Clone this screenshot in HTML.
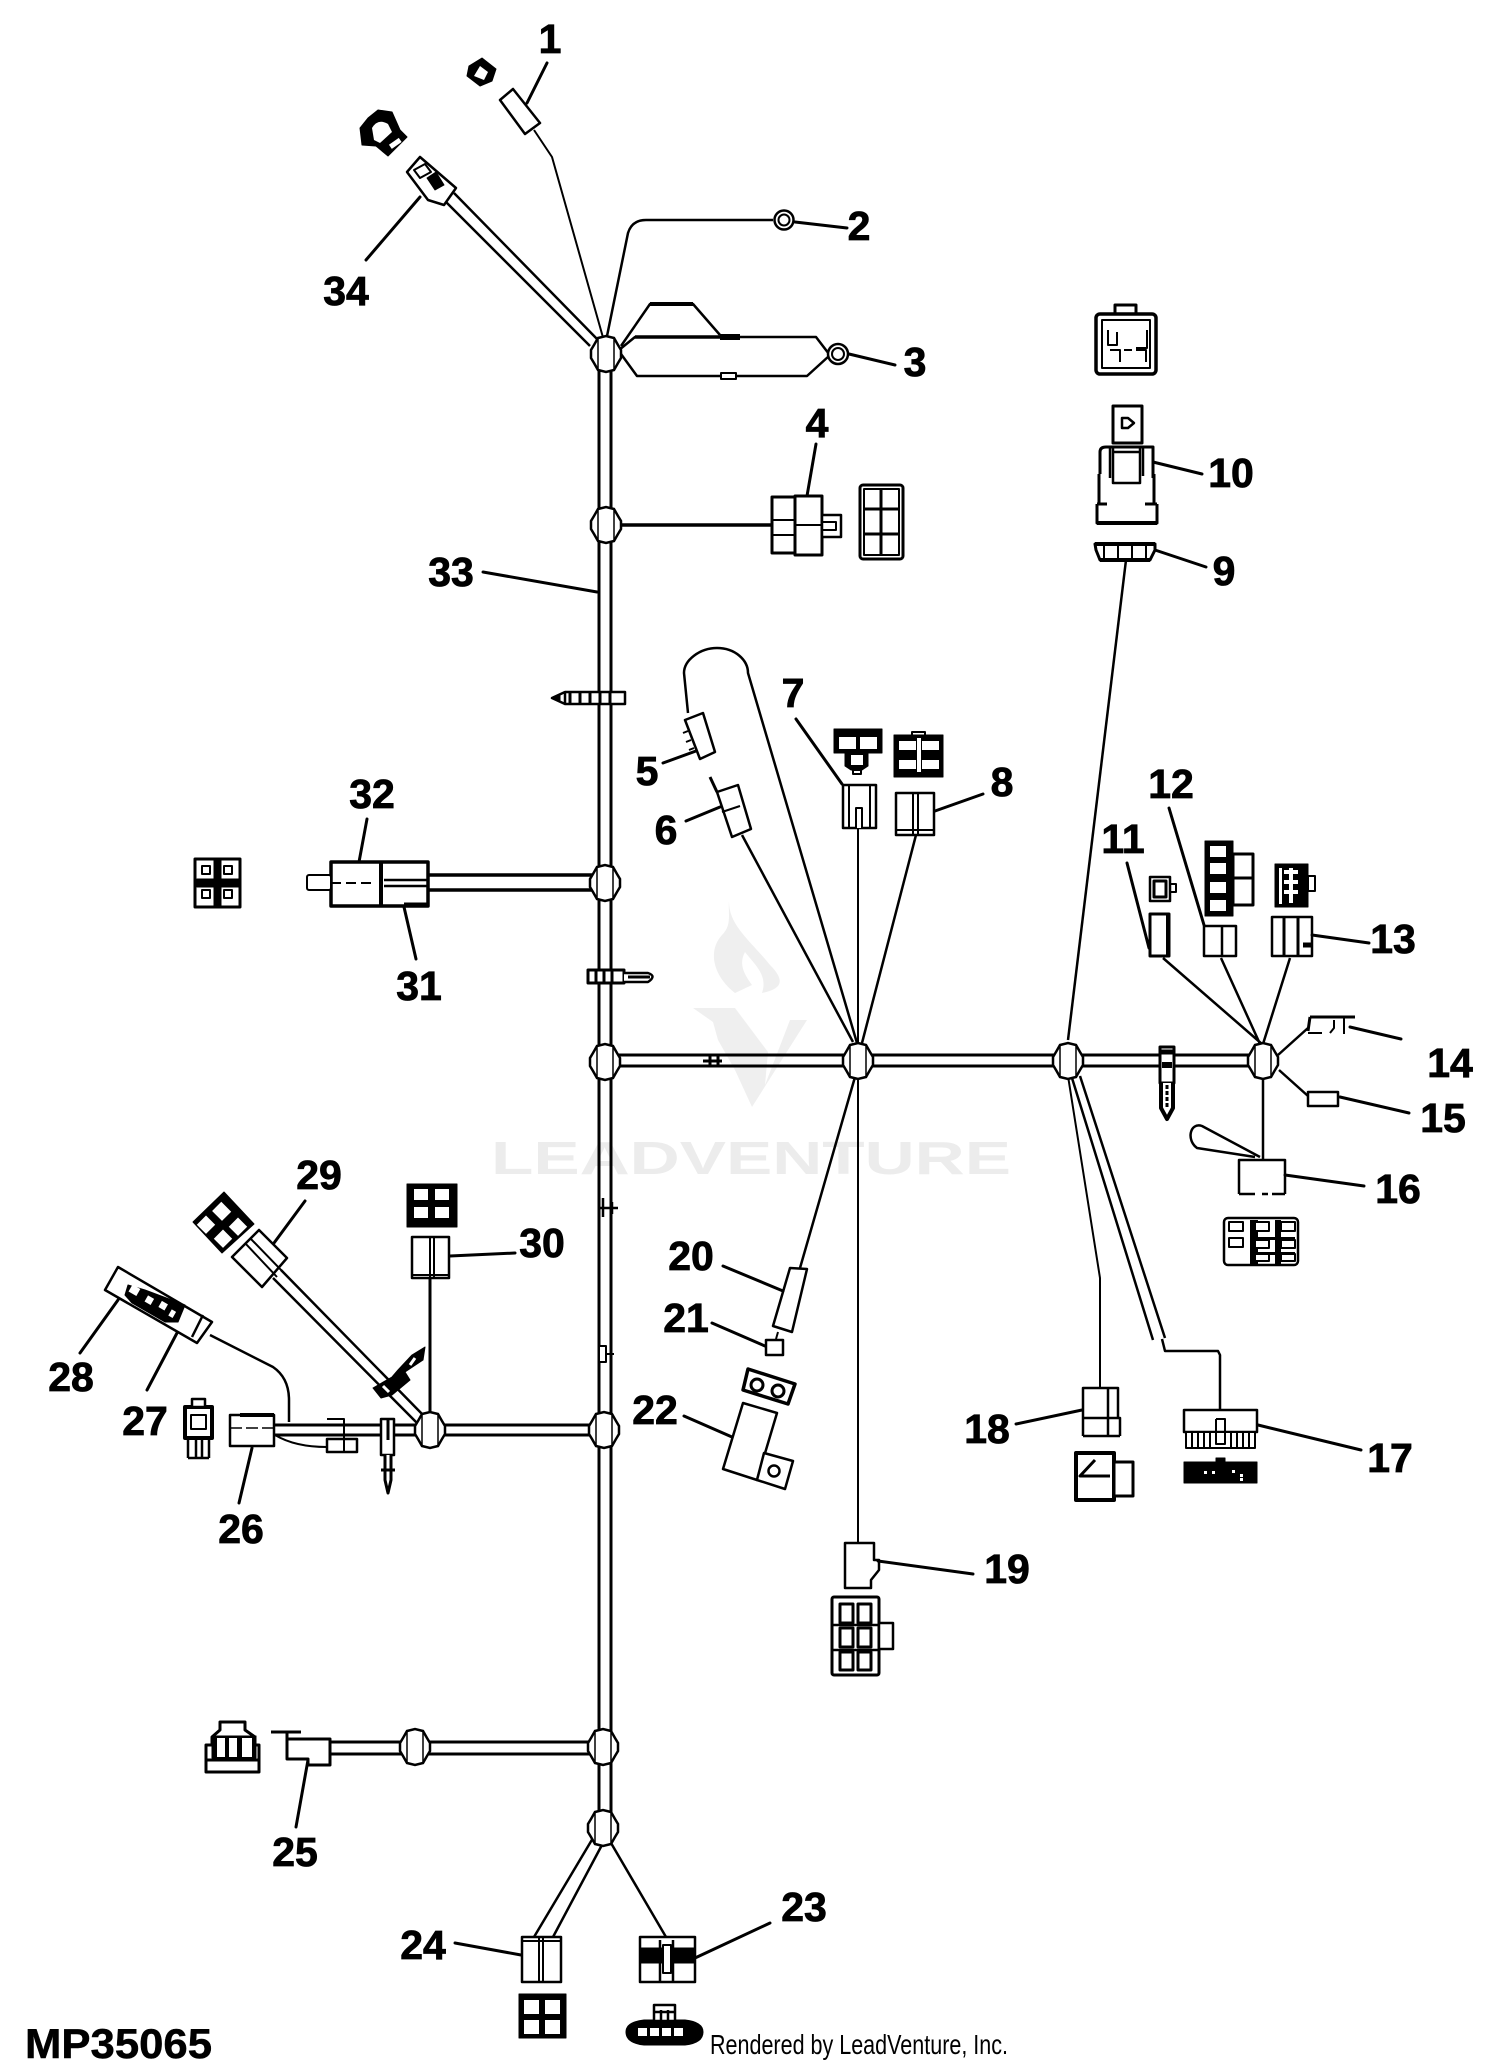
<!DOCTYPE html>
<html><head><meta charset="utf-8"><style>
html,body{margin:0;padding:0;background:#fff;width:1500px;height:2070px;overflow:hidden}
svg{display:block}
text{font-family:"Liberation Sans",sans-serif}
.n text,text.n{font-size:41px;font-weight:bold;text-anchor:middle;fill:#000;stroke:#000;stroke-width:.8}
</style></head><body>
<svg width="1500" height="2070" viewBox="0 0 1500 2070" xmlns="http://www.w3.org/2000/svg">
<defs>
<g id="nd"><path d="M-8-16 0-18 8-16 12-9 15-4V4L12 9 8 16 0 18-8 16-12 9-15 4V-4L-12-9Z" fill="#fff" stroke="#000" stroke-width="2.5"/><path d="M-8-15V15M8-15V15" fill="none" stroke="#000" stroke-width="1.5"/></g>
</defs>
<!-- watermark -->
<g fill="#efefef">
<path d="M729 900C728 925 750 940 770 965 790 985 775 990 762 993 768 975 755 965 745 952 738 965 745 975 752 985L735 993C712 975 708 950 722 935 732 925 728 915 729 900Z"/>
<path d="M693 1008H735L768 1052 765 1085 790 1020H807L752 1107 735 1070 718 1040 713 1022Z"/>
<text x="491" y="1174" font-size="46" font-weight="bold" textLength="520" lengthAdjust="spacingAndGlyphs" style="fill:#ececec">LEADVENTURE</text>
</g>

<!-- trunk -->
<g fill="none" stroke="#000" stroke-linejoin="round">
<path d="M599 354V1830M611 354V1830" stroke-width="3"/>
<!-- horizontals -->
<path d="M428 875H592M428 890H592" stroke-width="3.5"/>
<path d="M611 1055H1255M611 1066H1255" stroke-width="3"/>
<path d="M273 1425H591M273 1435H591" stroke-width="3"/>
<path d="M331 1742H593M331 1754H593" stroke-width="3"/>
<path d="M619 525H772" stroke-width="3.5"/>
<!-- top wires -->
<path d="M454 193 599 341M445 201 590 346" stroke-width="2.5"/>
<path d="M534 130 552 157 604 341" stroke-width="2"/>
<path d="M606 341 628 233Q632 220 646 220H773" stroke-width="2.5"/>
<path d="M619 350 635 337H816L829 354" stroke-width="2.5"/>
<path d="M621 346 650 304H693L720 335" stroke-width="2.5"/>
<path d="M650 304H693" stroke-width="4"/>
<path d="M635 337H720" stroke-width="3.5"/>
<path d="M720 337H740" stroke-width="6"/>
<path d="M621 354 637 376H807L829 356" stroke-width="2.5"/>
<!-- center wires -->
<path d="M688 713 684 673C684 660 700 648 717 648 735 648 748 660 748 673L857 1043" stroke-width="2.5"/>
<path d="M742 835 853 1042" stroke-width="2.5"/>
<path d="M858 828V1543" stroke-width="2"/>
<path d="M916 835 862 1043" stroke-width="2.5"/>
<path d="M1126 560 1068 1040" stroke-width="2.5"/>
<path d="M800 1268 855 1077" stroke-width="2.5"/>
<!-- right wires -->
<path d="M1163 958 1262 1044M1221 958 1260 1044M1290 958 1263 1044" stroke-width="2.5"/>
<path d="M1278 1055 1308 1028M1279 1070 1308 1096" stroke-width="2.5"/>
<path d="M1263 1078V1160" stroke-width="2.5"/>
<path d="M1260 1157 1202 1126C1190 1122 1186 1140 1197 1148L1255 1157" stroke-width="2.5"/>
<path d="M1068 1076 1100 1278V1387" stroke-width="2"/>
<path d="M1072 1078 1153 1340M1080 1076 1165 1338" stroke-width="2.5"/>
<path d="M1162 1339 1165 1351H1218L1220 1355V1410" stroke-width="2.5"/>
<!-- left wires -->
<path d="M281 1270 425 1417M273 1278 417 1423" stroke-width="2.5"/>
<path d="M430 1278V1415" stroke-width="3"/>
<path d="M210 1335 273 1367Q289 1378 289 1400V1422" stroke-width="2.5"/>
<path d="M275 1435Q295 1447 327 1447" stroke-width="2"/>
<!-- bottom wires -->
<path d="M593 1838 534 1937M603 1843 553 1937M611 1843 666 1937" stroke-width="2.5"/>

<!-- connector 1 -->
<path d="M513 89 500 100 525 134 540 123Z" fill="#fff" stroke-width="2.5"/>
<path d="M482 58 496 69 492 81 480 86 467 76 469 66Z" fill="#000"/><path d="M480 66 488 72 484 80 474 76Z" fill="#fff" stroke="none"/>
<!-- rings -->
<circle cx="784" cy="220" r="9.5" fill="#fff" stroke-width="2.5"/><circle cx="784" cy="220" r="5.5" stroke-width="2"/>
<circle cx="838" cy="354" r="10" fill="#fff" stroke-width="2.5"/><circle cx="838" cy="354" r="6" stroke-width="2"/>
<rect x="721" y="373" width="15" height="6" fill="#fff" stroke-width="2"/>
<!-- connector 34 -->
<path d="M420 157 456 188 444 205 428 200 407 172Z" fill="#fff" stroke-width="2.5"/>
<path d="M427 178 436 172 444 185 435 190Z" fill="#000"/>
<path d="M414 170 425 164 431 172 420 178Z" stroke-width="2"/>
<path d="M378 110 392 112 400 130 407 137 388 156 376 146 362 145 360 128 368 118Z" fill="#000"/>
<path d="M372 128Q378 118 388 124L392 132 380 143 374 140Z" fill="#fff" stroke="none"/>
<rect x="389" y="141" width="12" height="5" fill="#fff" stroke="none" transform="rotate(-35 395 143)"/>

<!-- connector 4 -->
<rect x="772" y="497" width="23" height="56" fill="#fff" stroke-width="3"/>
<rect x="795" y="496" width="27" height="59" fill="#fff" stroke-width="3"/>
<path d="M772 520H795M772 535H795M795 525H822" stroke-width="2"/>
<rect x="822" y="515" width="19" height="22" fill="#fff" stroke-width="2.5"/>
<path d="M822 522H836V530H822" stroke-width="2"/>
<rect x="860" y="485" width="43" height="74" rx="3" fill="#fff" stroke-width="3"/>
<path d="M881 488V556M864 509H900M864 534H900" stroke-width="3"/>
<rect x="864" y="489" width="35" height="66" stroke-width="2"/>

<!-- connector 10 -->
<rect x="1096" y="314" width="60" height="60" rx="4" fill="#fff" stroke-width="3.5"/>
<rect x="1102" y="320" width="48" height="48" stroke-width="2"/>
<path d="M1115 314V305H1136V314" stroke-width="3"/>
<path d="M1108 330V345H1117V332M1147 330V348H1136M1110 350H1120V362M1124 350H1132M1136 350H1146V362" stroke-width="2"/>
<rect x="1113" y="406" width="29" height="37" fill="#fff" stroke-width="3"/>
<path d="M1122 418H1128L1134 423 1128 428H1122Z" stroke-width="2.5"/>
<path d="M1099 474V505M1154 474V505M1100 474V452Q1100 447 1106 447H1153V478" stroke-width="3"/>
<path d="M1110 447V478M1113 447V483H1140V447M1113 452H1140M1143 447V476" stroke-width="2.5"/>
<path d="M1097 504V523H1157V504M1097 504H1107M1145 504H1157" stroke-width="3"/>
<path d="M1097 523H1157" stroke-width="4"/>
<!-- connector 9 -->
<path d="M1095 544H1155V550L1150 560H1100L1096 550Z" fill="#fff" stroke-width="3"/>
<path d="M1095 544H1155M1100 560H1150" stroke-width="4"/>
<path d="M1104 545V559M1118 545V559M1132 545V559M1146 545V559" stroke-width="2"/>

<!-- connector 5 / 6 -->
<path d="M685 720 703 713 715 752 700 759Z" fill="#fff" stroke-width="2.5"/>
<path d="M683 733 688 731M686 742 691 740M689 750 694 748" stroke-width="2"/>
<path d="M710 777 717 792" stroke-width="3"/>
<path d="M717 792 738 785 751 829 732 837Z" fill="#fff" stroke-width="2.5"/>
<path d="M722 812 740 806" stroke-width="2"/>
<!-- connector 7 -->
<rect x="843" y="785" width="33" height="43" fill="#fff" stroke-width="2.5"/>
<path d="M849 785V828M870 785V828" stroke-width="2"/>
<path d="M856 828V808H862V828" fill="#fff" stroke-width="2"/>
<rect x="834" y="729" width="48" height="24" fill="#000"/>
<rect x="839" y="737" width="17" height="12" fill="#fff" stroke="none"/><rect x="860" y="737" width="17" height="12" fill="#fff" stroke="none"/>
<path d="M845 753H868V766L862 770H851L845 766Z" fill="#000"/><rect x="851" y="755" width="12" height="10" fill="#fff" stroke="none"/>
<rect x="853" y="770" width="8" height="4" fill="#fff" stroke-width="2"/>
<!-- connector 8 -->
<rect x="896" y="793" width="38" height="42" fill="#fff" stroke-width="2.5"/>
<path d="M913 793V835M918 793V835M896 830H934" stroke-width="2"/>
<rect x="894" y="735" width="49" height="42" fill="#000"/>
<rect x="899" y="741" width="17" height="9" fill="#fff" stroke="none"/><rect x="922" y="741" width="17" height="9" fill="#fff" stroke="none"/>
<rect x="899" y="760" width="17" height="9" fill="#fff" stroke="none"/><rect x="922" y="760" width="17" height="9" fill="#fff" stroke="none"/>
<path d="M912 735V732H925V735" stroke-width="2"/>
<rect x="917" y="738" width="4" height="34" fill="#fff" stroke="none"/>

<!-- connector 11/12/13 -->
<rect x="1150" y="914" width="19" height="42" fill="#fff" stroke-width="3"/>
<path d="M1168 914V956" stroke-width="4"/>
<rect x="1150" y="877" width="20" height="24" fill="#fff" stroke-width="2.5"/><rect x="1154" y="881" width="12" height="16" stroke-width="3"/>
<path d="M1170 884H1176V892H1170" stroke-width="2"/>
<rect x="1204" y="926" width="32" height="30" fill="#fff" stroke-width="2.5"/>
<path d="M1222 926V956" stroke-width="2.5"/>
<rect x="1205" y="841" width="28" height="75" fill="#000"/>
<rect x="1210" y="846" width="16" height="11" fill="#fff" stroke="none"/><rect x="1210" y="863" width="16" height="11" fill="#fff" stroke="none"/><rect x="1210" y="882" width="16" height="11" fill="#fff" stroke="none"/><rect x="1210" y="900" width="16" height="11" fill="#fff" stroke="none"/>
<rect x="1233" y="854" width="20" height="51" fill="#fff" stroke-width="3"/><path d="M1233 878H1253" stroke-width="3"/>
<rect x="1272" y="917" width="40" height="39" fill="#fff" stroke-width="2.5"/>
<path d="M1284 917V956M1298 917V956" stroke-width="3"/><path d="M1303 945H1312" stroke-width="5"/>
<rect x="1275" y="864" width="33" height="43" fill="#000"/>
<path d="M1291 868V903M1284 872H1298M1284 882H1298M1284 892H1298" stroke="#fff" stroke-width="4"/>
<rect x="1279" y="868" width="3" height="36" fill="#fff" stroke="none"/>
<rect x="1308" y="876" width="7" height="15" fill="#fff" stroke-width="2"/>
<!-- 14 / 15 -->
<path d="M1310 1017H1355M1310 1017 1308 1031" stroke-width="3"/>
<path d="M1308 1033H1322M1330 1033 1334 1028V1020M1344 1034V1018" stroke-width="2"/>
<rect x="1308" y="1092" width="30" height="14" fill="#fff" stroke-width="2.5"/>
<!-- 16 -->
<path d="M1239 1194V1160H1285V1194M1239 1194H1255M1262 1194H1268M1272 1194H1285" fill="#fff" stroke-width="2.5"/>
<rect x="1224" y="1218" width="74" height="47" rx="4" fill="#fff" stroke-width="2.5"/>
<g fill="#000" stroke="none"><rect x="1250" y="1220" width="8" height="44"/><rect x="1275" y="1220" width="6" height="44"/><rect x="1250" y="1237" width="45" height="3"/><rect x="1250" y="1252" width="45" height="3"/></g>
<g fill="#fff" stroke-width="2"><rect x="1229" y="1222" width="14" height="9"/><rect x="1255" y="1222" width="14" height="9"/><rect x="1281" y="1222" width="14" height="9"/><rect x="1229" y="1238" width="14" height="9"/><rect x="1255" y="1240" width="14" height="8"/><rect x="1281" y="1240" width="14" height="8"/><rect x="1255" y="1254" width="14" height="7"/><rect x="1281" y="1254" width="14" height="7"/></g>
<!-- 17 -->
<rect x="1184" y="1410" width="73" height="22" fill="#fff" stroke-width="2.5"/>
<rect x="1186" y="1432" width="69" height="16" fill="#fff" stroke-width="2"/>
<path d="M1192 1432V1448M1198 1432V1448M1204 1432V1448M1210 1432V1448M1216 1419V1444H1225V1419H1216M1231 1432V1448M1237 1432V1448M1243 1432V1448M1249 1432V1448" stroke-width="2"/>
<rect x="1184" y="1462" width="73" height="21" fill="#000"/><rect x="1216" y="1458" width="9" height="5" fill="#000"/>
<g fill="#fff" stroke="none"><rect x="1204" y="1471" width="3" height="3"/><rect x="1212" y="1471" width="3" height="3"/><rect x="1232" y="1470" width="3" height="3"/><rect x="1240" y="1474" width="3" height="3"/><rect x="1240" y="1478" width="3" height="3"/></g>
<!-- 18 -->
<path d="M1083 1436V1388H1118V1418M1108 1388V1436M1083 1418H1120V1436M1083 1436H1120" fill="#fff" stroke-width="2.5"/>
<rect x="1076" y="1453" width="38" height="47" fill="#fff" stroke-width="4"/>
<path d="M1080 1476H1110M1095 1460 1080 1476 1095 1476 1110 1476" stroke-width="3"/>
<rect x="1114" y="1462" width="19" height="34" fill="#fff" stroke-width="3"/>
<!-- 19 -->
<path d="M845 1543H874V1560H879V1570L871 1580V1588H845Z" fill="#fff" stroke-width="2.5"/>
<rect x="832" y="1597" width="47" height="78" rx="2" fill="#fff" stroke-width="3"/>
<rect x="879" y="1623" width="14" height="26" fill="#fff" stroke-width="2.5"/>
<g fill="#fff" stroke-width="3"><rect x="840" y="1604" width="13" height="19"/><rect x="858" y="1604" width="13" height="19"/><rect x="840" y="1628" width="13" height="19"/><rect x="858" y="1628" width="13" height="19"/><rect x="840" y="1652" width="13" height="18"/><rect x="858" y="1652" width="13" height="18"/></g>
<path d="M832 1625H879M832 1650H879" stroke-width="2.5"/>
<!-- 20/21/22 -->
<path d="M790 1268 807 1269 792 1332 773 1326Z" fill="#fff" stroke-width="2.5"/>
<path d="M778 1332 776 1339" stroke-width="2"/>
<rect x="766" y="1340" width="17" height="15" fill="#fff" stroke-width="2.5"/>
<path d="M748 1369 795 1384 788 1404 743 1390Z" fill="#fff" stroke-width="3.5"/>
<circle cx="757" cy="1385" r="6" stroke-width="3"/><circle cx="778" cy="1391" r="6" stroke-width="3"/>
<path d="M743 1403 777 1413 757 1480 723 1469Z" fill="#fff" stroke-width="2.5"/>
<path d="M764 1453 793 1461 785 1489 757 1480Z" fill="#fff" stroke-width="2.5"/>
<circle cx="774" cy="1471" r="5.5" stroke-width="2.5"/>
<!-- 23 / 24 -->
<rect x="640" y="1937" width="55" height="45" fill="#fff" stroke-width="2.5"/>
<rect x="640" y="1948" width="55" height="15" fill="#000"/>
<path d="M660 1940V1983M673 1940V1983" stroke-width="2.5"/>
<rect x="663" y="1945" width="8" height="28" fill="#fff" stroke-width="2"/>
<path d="M644 2020H685Q703 2022 703 2032 703 2043 685 2045H644Q626 2043 626 2032 626 2022 644 2020Z" fill="#000"/>
<g fill="#fff"><rect x="638" y="2028" width="9" height="8" stroke="none"/><rect x="650" y="2028" width="9" height="8" stroke="none"/><rect x="662" y="2028" width="9" height="8" stroke="none"/><rect x="674" y="2028" width="9" height="8" stroke="none"/></g>
<rect x="654" y="2005" width="21" height="16" fill="#fff" stroke-width="2.5"/><path d="M661 2010V2020M668 2010V2020M654 2012H675" stroke-width="2.5"/>
<rect x="522" y="1937" width="39" height="45" fill="#fff" stroke-width="2.5"/>
<path d="M539 1937V1982M543 1937V1982M522 1941H561" stroke-width="2"/>
<rect x="519" y="1994" width="47" height="44" fill="#000"/>
<g fill="#fff" stroke="none"><rect x="524" y="2000" width="15" height="14"/><rect x="545" y="2000" width="15" height="14"/><rect x="524" y="2020" width="15" height="14"/><rect x="545" y="2020" width="15" height="14"/></g>
<!-- 25 -->
<path d="M271 1732H301" stroke-width="3"/>
<path d="M287 1732V1759H308V1765H330V1739H287" fill="#fff" stroke-width="3"/>
<rect x="206" y="1745" width="53" height="27" fill="#fff" stroke-width="3"/>
<path d="M206 1760H259" stroke-width="3"/>
<path d="M212 1745V1737L220 1730V1722H245V1730L255 1737V1745" fill="#fff" stroke-width="3"/>
<rect x="212" y="1736" width="44" height="22" fill="#000"/>
<rect x="217" y="1738" width="8" height="19" fill="#fff" stroke="none"/><rect x="229" y="1738" width="8" height="19" fill="#fff" stroke="none"/><rect x="242" y="1738" width="10" height="19" fill="#fff" stroke="none"/>
<!-- 26 -->
<path d="M230 1415H274V1446H230Z" fill="#fff" stroke-width="2.5"/>
<path d="M240 1415H274" stroke-width="4"/><path d="M230 1428H274" stroke-width="1.5" stroke-dasharray="12 4"/>
<path d="M327 1419H344V1439" fill="none" stroke-width="2"/>
<rect x="327" y="1439" width="30" height="13" fill="#fff" stroke-width="2.5"/><path d="M344 1439V1452" stroke-width="2"/>
<rect x="185" y="1407" width="27" height="31" fill="#fff" stroke-width="4"/>
<rect x="192" y="1399" width="13" height="8" fill="#fff" stroke-width="2.5"/><rect x="191" y="1415" width="15" height="14" stroke-width="2"/>
<path d="M188 1438V1458M209 1438V1458M196 1438V1458M202 1438V1458M188 1458H209" stroke-width="2.5"/>
<!-- clip lower on horizontal -->
<rect x="381" y="1419" width="13" height="36" fill="#fff" stroke-width="2.5"/><path d="M388 1419V1440" stroke-width="3"/>
<path d="M385 1455V1480L388 1493 391 1480V1455M381 1470H395" fill="#fff" stroke-width="3"/>
<!-- 27/28 -->
<path d="M118 1267 212 1322 197 1343 105 1290Z" fill="#fff" stroke-width="2.5"/>
<path d="M203 1315 192 1337" stroke-width="2.5"/>
<path d="M128 1285 145 1290 185 1305 178 1322 165 1322 132 1303 125 1295Z" fill="#000"/>
<g fill="#fff" stroke="none"><rect x="130" y="1286" width="9" height="8" transform="rotate(30 134 1290)"/><rect x="146" y="1297" width="7" height="7" transform="rotate(30 150 1300)"/><rect x="160" y="1302" width="7" height="7" transform="rotate(30 163 1305)"/><rect x="170" y="1310" width="5" height="7" transform="rotate(30 172 1313)"/></g>
<!-- 29 -->
<path d="M259 1230 287 1258 262 1287 232 1257Z" fill="#fff" stroke-width="2.5"/>
<path d="M245 1243 277 1277M250 1238 283 1272" stroke-width="2"/>
<path d="M224 1192 254 1224 222 1253 193 1222Z" fill="#000"/>
<g fill="#fff" stroke="none"><rect x="215" y="1205" width="14" height="13" transform="rotate(45 222 1211)"/><rect x="232" y="1220" width="13" height="13" transform="rotate(45 238 1226)"/><rect x="200" y="1218" width="13" height="13" transform="rotate(45 206 1224)"/><rect x="217" y="1232" width="13" height="13" transform="rotate(45 223 1238)"/></g>
<!-- clip on 29 wire -->
<path d="M425 1347 423 1360 405 1372 410 1380 392 1395 381 1398 373 1388 392 1377 398 1370 412 1355Z" fill="#000"/>
<path d="M415 1358 410 1365M383 1386 389 1392" stroke="#fff" stroke-width="3"/>
<!-- 30 -->
<rect x="412" y="1237" width="37" height="41" fill="#fff" stroke-width="2.5"/>
<path d="M430 1237V1278M434 1237V1278M412 1275H449" stroke-width="2"/>
<rect x="407" y="1184" width="50" height="43" fill="#000"/>
<g fill="#fff" stroke="none"><rect x="414" y="1189" width="14" height="11"/><rect x="435" y="1189" width="14" height="11"/><rect x="414" y="1207" width="14" height="11"/><rect x="435" y="1207" width="14" height="11"/></g>
<!-- 31/32 -->
<rect x="331" y="862" width="97" height="44" fill="#fff" stroke-width="3.5"/>
<path d="M381 862V906" stroke-width="4"/><path d="M384 880H428M384 886H428" stroke-width="2.5"/>
<path d="M404 905H428" stroke-width="5"/>
<rect x="307" y="875" width="24" height="15" rx="2" fill="#fff" stroke-width="2"/>
<path d="M331 883H376" stroke-width="2" stroke-dasharray="10 5"/>
<rect x="195" y="859" width="45" height="48" fill="#fff" stroke-width="3"/>
<rect x="214" y="860" width="7" height="46" fill="#000"/><rect x="197" y="879" width="42" height="8" fill="#000"/>
<rect x="202" y="866" width="8" height="8" stroke-width="2"/><rect x="224" y="866" width="8" height="8" stroke-width="2"/><rect x="202" y="890" width="8" height="8" stroke-width="2"/><rect x="224" y="890" width="8" height="8" stroke-width="2"/>

<!-- trunk clips -->
<path d="M552 698 565 692V704ZM565 692H625V704H565" fill="#fff" stroke-width="2.5"/>
<path d="M552 698 560 694 560 702Z" fill="#000"/><path d="M570 692V704M580 692V704M590 692V704M600 692V704M610 692V704" stroke-width="3"/>
<rect x="588" y="970" width="36" height="13" fill="#fff" stroke-width="3"/>
<path d="M596 970V983M604 970V983M612 970V983" stroke-width="3"/>
<path d="M624 973H648Q657 976 648 982H624" fill="#fff" stroke-width="2.5"/><path d="M628 977H650" stroke-width="3"/>
<path d="M599 1208H618M603 1198V1217M612 1202V1214" stroke-width="2.5"/>
<path d="M599 1346V1362H606V1346ZM606 1354H614" fill="#fff" stroke-width="2"/>
<path d="M703 1061H722M710 1056V1066M718 1056V1066" stroke-width="3"/>
<!-- clip 1167 -->
<rect x="1160" y="1047" width="14" height="36" fill="#fff" stroke-width="3"/>
<path d="M1160 1052H1174" stroke-width="5"/><rect x="1162" y="1062" width="10" height="6" fill="#000" stroke="none"/>
<path d="M1161 1083V1108L1167 1119 1173 1108V1083" fill="#fff" stroke-width="4"/>
<path d="M1167 1085V1108" stroke-width="3" stroke-dasharray="4 2"/>
</g>

<!-- nodes -->
<use href="#nd" x="606" y="354"/>
<use href="#nd" x="606" y="525"/>
<use href="#nd" x="605" y="883"/>
<use href="#nd" x="605" y="1062"/>
<use href="#nd" x="858" y="1061"/>
<use href="#nd" x="1068" y="1061"/>
<use href="#nd" x="1263" y="1061"/>
<use href="#nd" x="430" y="1430"/>
<use href="#nd" x="604" y="1430"/>
<use href="#nd" x="415" y="1747"/>
<use href="#nd" x="603" y="1747"/>
<use href="#nd" x="603" y="1828"/>

<!-- leaders -->
<g fill="none" stroke="#000" stroke-width="3" stroke-linecap="round">
<path d="M547 63 527 103M420 197 366 260M795 222 847 228M849 354 895 365M816 444 807 496M483 572 597 592"/>
<path d="M1153 462 1202 474M1155 550 1206 567M696 751 663 763M720 807 686 821M796 719 842 784M935 811 983 794"/>
<path d="M1127 863 1149 948M1169 808 1204 925M1312 935 1369 943M1350 1027 1401 1039M1340 1097 1409 1113M1285 1175 1364 1186"/>
<path d="M1258 1425 1361 1450M1082 1410 1016 1424M878 1561 973 1574M723 1266 783 1291M712 1323 765 1346M684 1416 732 1437"/>
<path d="M305 1201 274 1243M450 1256 515 1253M118 1300 80 1353M177 1333 147 1390M252 1448 239 1503"/>
<path d="M308 1760 296 1827M521 1955 455 1943M695 1958 770 1923M367 819 359 862M404 907 416 959"/>
</g>

<!-- labels -->
<g class="n">
<text x="550" y="53">1</text>
<text x="859" y="240">2</text>
<text x="915" y="376">3</text>
<text x="817" y="437">4</text>
<text x="647" y="785">5</text>
<text x="666" y="844">6</text>
<text x="793" y="707">7</text>
<text x="1002" y="796">8</text>
<text x="1224" y="585">9</text>
<text x="1231" y="487">10</text>
<text x="1123" y="853">11</text>
<text x="1171" y="798">12</text>
<text x="1393" y="953">13</text>
<text x="1450" y="1077">14</text>
<text x="1443" y="1132">15</text>
<text x="1398" y="1203">16</text>
<text x="1390" y="1472">17</text>
<text x="987" y="1443">18</text>
<text x="1007" y="1583">19</text>
<text x="691" y="1270">20</text>
<text x="686" y="1332">21</text>
<text x="655" y="1424">22</text>
<text x="804" y="1921">23</text>
<text x="423" y="1959">24</text>
<text x="295" y="1866">25</text>
<text x="241" y="1543">26</text>
<text x="145" y="1435">27</text>
<text x="71" y="1391">28</text>
<text x="319" y="1189">29</text>
<text x="542" y="1257">30</text>
<text x="419" y="1000">31</text>
<text x="372" y="808">32</text>
<text x="451" y="586">33</text>
<text x="346" y="305">34</text>
</g>
<text x="25" y="2058" font-size="42" font-weight="bold" fill="#000" stroke="#000" stroke-width=".5" textLength="187" lengthAdjust="spacingAndGlyphs">MP35065</text>
<text x="710" y="2054" font-size="28" fill="#000" textLength="298" lengthAdjust="spacingAndGlyphs">Rendered by LeadVenture, Inc.</text>
</svg>
</body></html>
